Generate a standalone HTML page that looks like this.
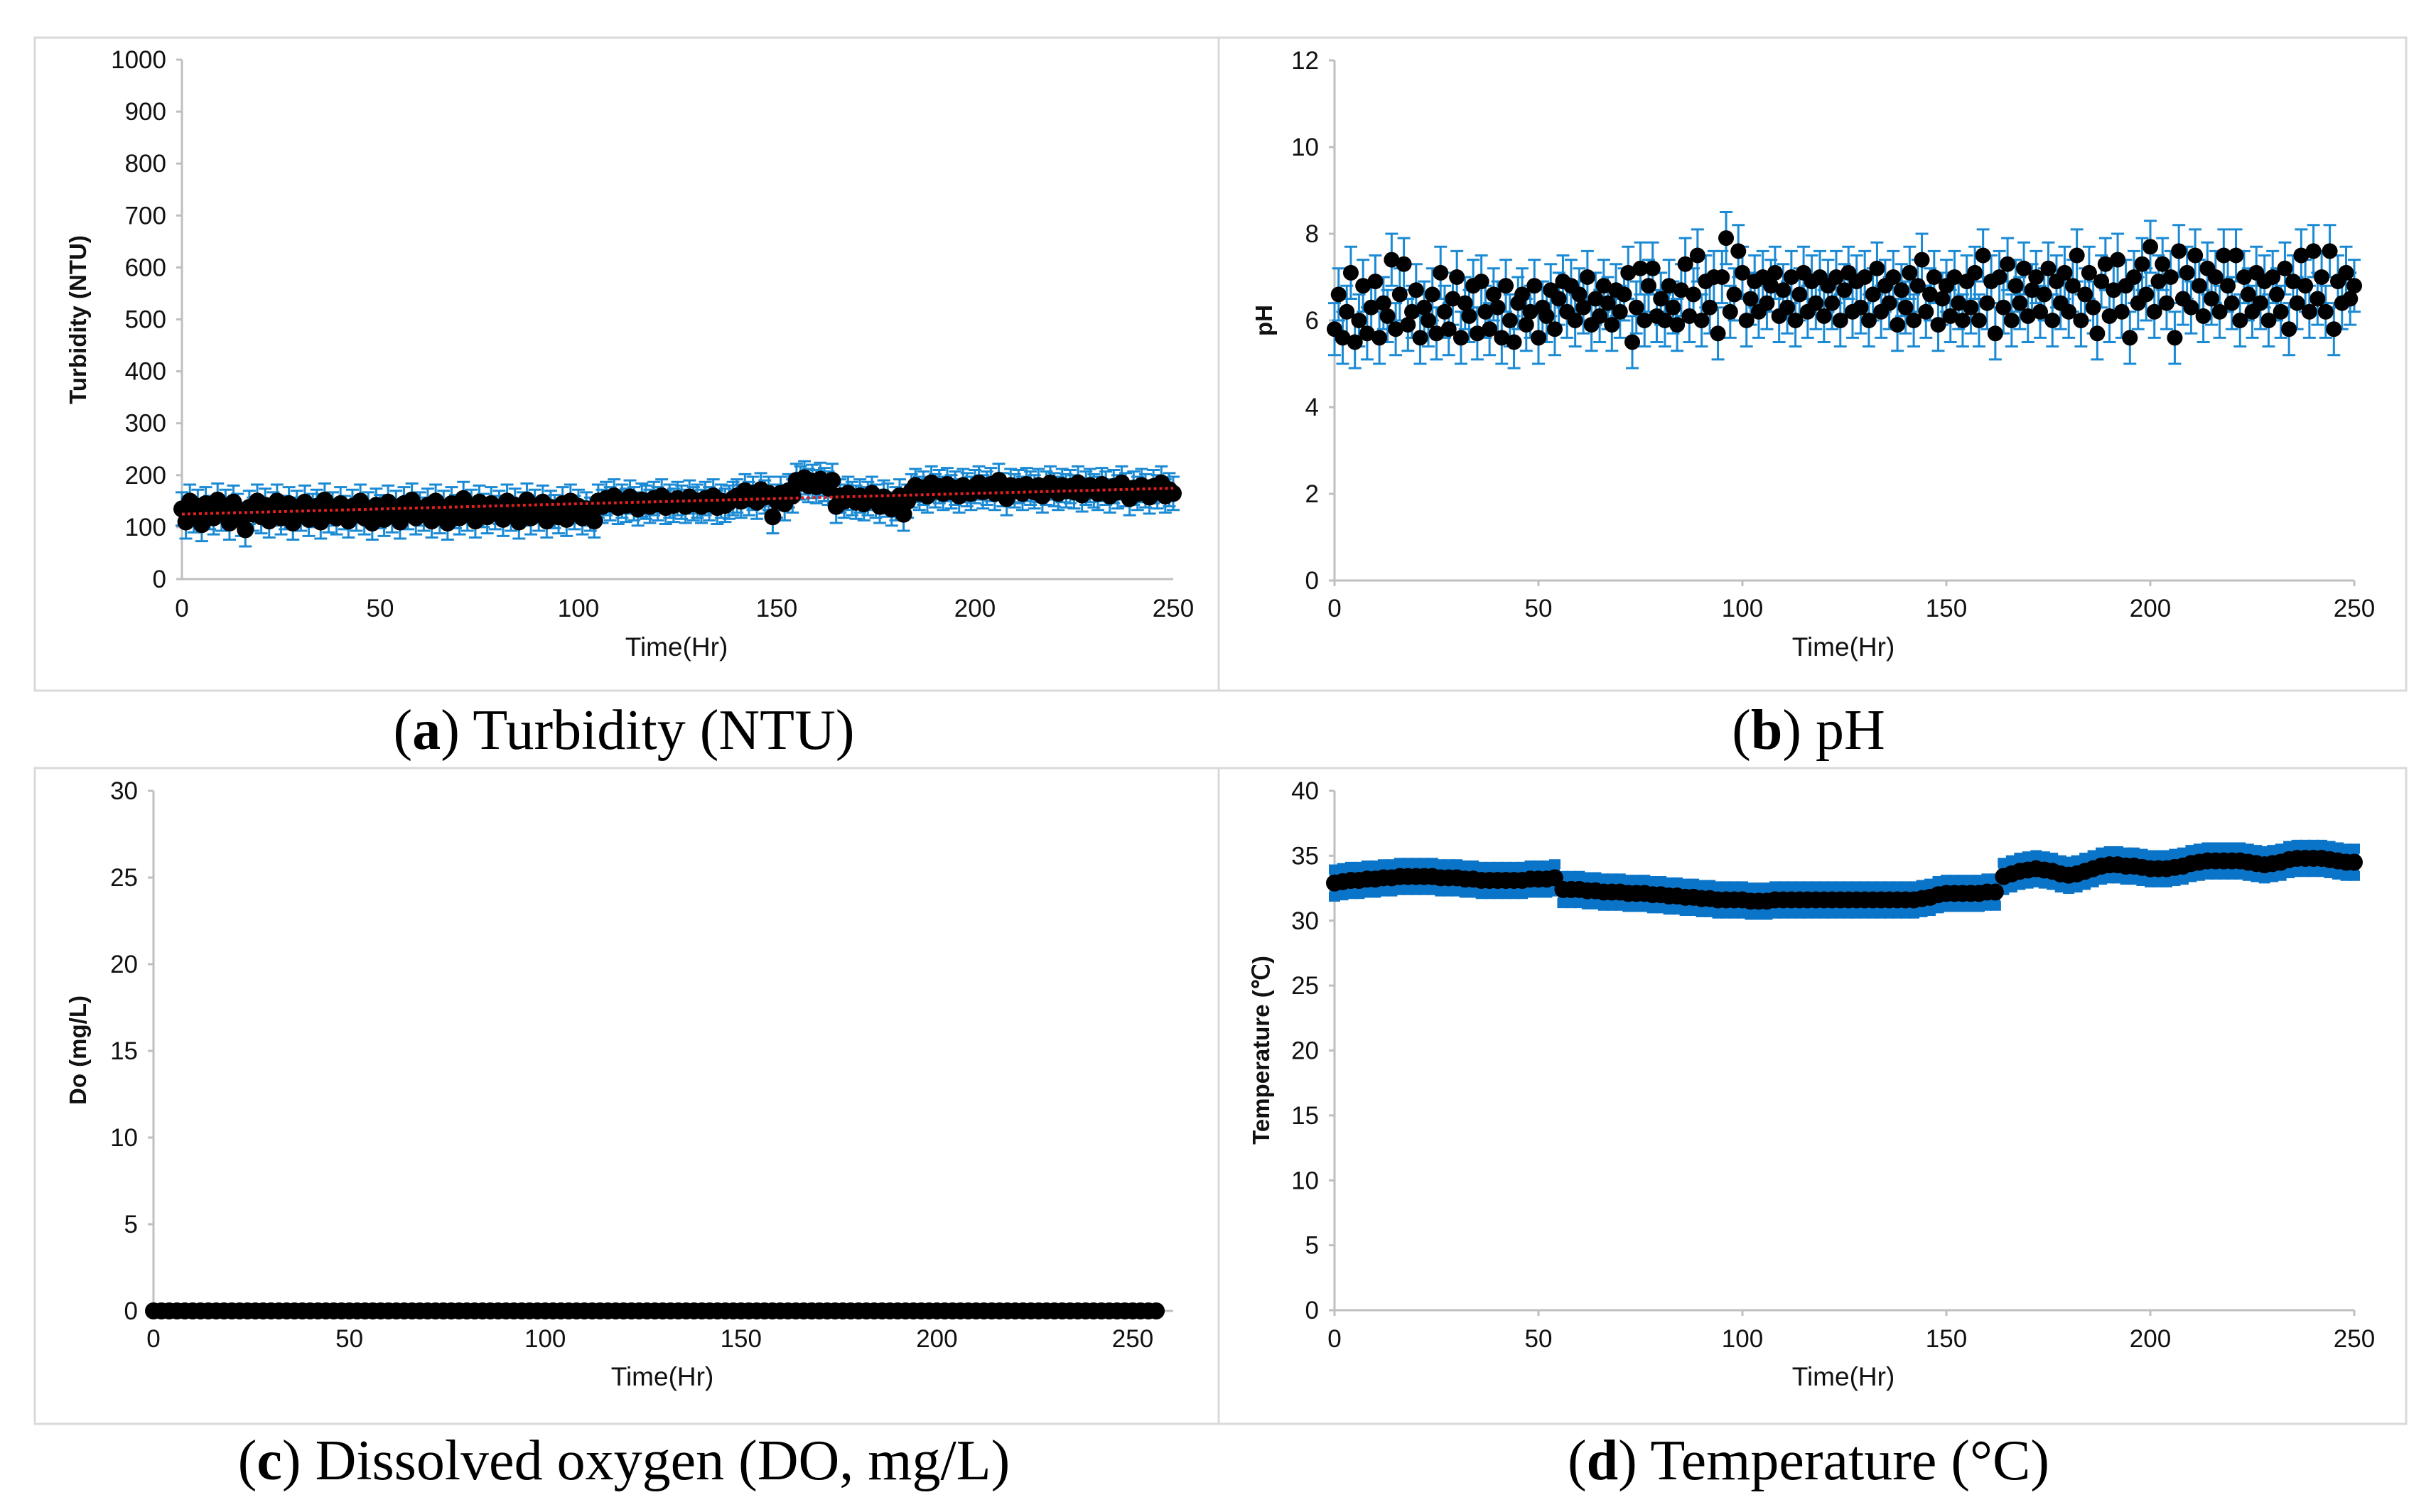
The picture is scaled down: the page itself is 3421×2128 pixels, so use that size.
<!DOCTYPE html>
<html><head><meta charset="utf-8">
<style>
html,body{margin:0;padding:0;background:#fff;}
svg{display:block;}
text{font-family:"Liberation Sans",sans-serif;}
.tick{font-size:35px;fill:#111;}
.ytitle{font-size:33px;font-weight:bold;fill:#111;}
.xtitle{font-size:37px;fill:#111;}
.cap{font-family:"Liberation Serif",serif;font-size:80px;fill:#000;}
</style></head>
<body>
<svg id="fig" width="3421" height="2128" viewBox="0 0 3421 2128" xmlns="http://www.w3.org/2000/svg"></svg>
<script>
// ---- data ----
const turbTicks = [0,100,200,300,400,500,600,700,800,900,1000];
const phTicks = [0,2,4,6,8,10,12];
const doTicks = [0,5,10,15,20,25,30];
const tempTicks = [0,5,10,15,20,25,30,35,40];
const timeTicks = [0,50,100,150,200,250];
const turbValues = [135,110,150,122,140,105,145,128,118,152,
125,140,108,148,132,115,95,138,125,150,
120,142,112,135,150,118,128,145,108,138,
125,148,115,132,140,110,152,122,135,118,
145,128,112,140,125,150,118,135,108,142,
130,115,148,122,138,110,145,128,152,118,
135,125,142,112,150,120,138,108,145,130,
118,155,125,140,112,148,132,120,145,128,
138,115,150,125,142,110,135,152,118,140,
125,148,112,138,130,120,145,115,150,128,
140,118,135,125,112,150,140,155,145,160,
138,150,142,158,145,135,152,148,140,155,
145,160,138,150,142,155,148,140,158,145,
150,140,155,145,160,138,150,142,148,155,
160,150,170,155,165,148,172,158,165,120,
150,165,145,170,160,190,185,195,180,188,
178,192,182,175,190,140,160,150,165,155,
148,160,145,155,165,150,140,158,152,135,
145,160,125,150,170,180,165,175,160,185,
170,178,165,182,168,175,160,180,172,165,
178,185,168,175,182,165,190,172,155,180,
170,178,165,182,175,168,180,160,175,185,
172,165,180,170,178,168,185,162,175,180,
170,165,182,175,160,178,168,185,172,155,
175,165,180,170,158,178,168,185,160,172,
165];
const turbStep = 1;
const turbErr = 32;
const turbTrend = [125,175];
const phValues = [5.8,6.6,5.6,6.2,7.1,5.5,6.0,6.8,5.7,6.3,
6.9,5.6,6.4,6.1,7.4,5.8,6.6,7.3,5.9,6.2,
6.7,5.6,6.3,6.0,6.6,5.7,7.1,6.2,5.8,6.5,
7.0,5.6,6.4,6.1,6.8,5.7,6.9,6.2,5.8,6.6,
6.3,5.6,6.8,6.0,5.5,6.4,6.6,5.9,6.2,6.8,
5.6,6.3,6.1,6.7,5.8,6.5,6.9,6.2,6.8,6.0,
6.6,6.3,7.0,5.9,6.5,6.1,6.8,6.4,5.9,6.7,
6.2,6.6,7.1,5.5,6.3,7.2,6.0,6.8,7.2,6.1,
6.5,6.0,6.8,6.3,5.9,6.7,7.3,6.1,6.6,7.5,
6.0,6.9,6.3,7.0,5.7,7.0,7.9,6.2,6.6,7.6,
7.1,6.0,6.5,6.9,6.2,7.0,6.4,6.8,7.1,6.1,
6.7,6.3,7.0,6.0,6.6,7.1,6.2,6.9,6.4,7.0,
6.1,6.8,6.4,7.0,6.0,6.7,7.1,6.2,6.9,6.3,
7.0,6.0,6.6,7.2,6.2,6.8,6.4,7.0,5.9,6.7,
6.3,7.1,6.0,6.8,7.4,6.2,6.6,7.0,5.9,6.5,
6.8,6.1,7.0,6.4,6.0,6.9,6.3,7.1,6.0,7.5,
6.4,6.9,5.7,7.0,6.3,7.3,6.0,6.8,6.4,7.2,
6.1,6.7,7.0,6.2,6.6,7.2,6.0,6.9,6.4,7.1,
6.2,6.8,7.5,6.0,6.6,7.1,6.3,5.7,6.9,7.3,
6.1,6.7,7.4,6.2,6.8,5.6,7.0,6.4,7.3,6.6,
7.7,6.2,6.9,7.3,6.4,7.0,5.6,7.6,6.5,7.1,
6.3,7.5,6.8,6.1,7.2,6.5,7.0,6.2,7.5,6.8,
6.4,7.5,6.0,7.0,6.6,6.2,7.1,6.4,6.9,6.0,
7.0,6.6,6.2,7.2,5.8,6.9,6.4,7.5,6.8,6.2,
7.6,6.5,7.0,6.2,7.6,5.8,6.9,6.4,7.1,6.5,
6.8];
const phStep = 1;
const phErr = 0.6;
const tempValues = [32.9,33.0,33.1,33.1,33.2,33.2,33.3,33.3,33.4,33.4,33.4,
33.4,33.4,33.3,33.3,33.3,33.2,33.2,33.1,33.1,33.1,
33.1,33.1,33.1,33.2,33.2,33.2,33.3,
32.4,32.4,32.4,32.3,32.3,32.2,32.2,
32.2,32.1,32.1,32.1,32.0,32.0,
31.9,31.9,31.8,31.8,31.7,31.7,31.6,31.6,31.6,31.6,
31.5,31.5,31.5,31.6,31.6,31.6,31.6,31.6,31.6,31.6,
31.6,31.6,31.6,31.6,31.6,31.6,31.6,31.6,31.6,31.6,
31.6,31.7,31.8,32.0,32.1,32.1,32.1,32.1,32.1,32.2,32.2,
33.4,33.6,33.8,33.9,34.0,33.9,33.8,33.6,
33.5,33.6,33.8,34.0,34.2,34.3,34.3,34.2,34.2,34.1,34.0,
34.0,34.0,34.1,34.2,34.4,34.5,34.6,34.6,34.6,34.6,
34.6,34.5,34.4,34.3,34.4,34.5,34.7,34.8,34.8,34.8,
34.8,34.7,34.6,34.5,34.5];
const tempStep = 2;
const tempErr = 1.05;
const doValues = [0,0,0,0,0,0,0,0,0,0,0,0,0,0,0,0,0,0,0,0,0,0,0,0,0,0,0,0,0,0,0,0,
0,0,0,0,0,0,0,0,0,0,0,0,0,0,0,0,0,0,0,0,0,0,0,0,0,0,0,0,0,0,0,0,
0,0,0,0,0,0,0,0,0,0,0,0,0,0,0,0,0,0,0,0,0,0,0,0,0,0,0,0,0,0,0,0,
0,0,0,0,0,0,0,0,0,0,0,0,0,0,0,0,0,0,0,0,0,0,0,0,0,0,0,0,0,0,0,0,0];
const doStep = 2;

// ---- drawing ----
const NS = "http://www.w3.org/2000/svg";
const svg = document.getElementById('fig');
function el(tag, attrs, parent, txt){
  const e = document.createElementNS(NS, tag);
  for (const k in attrs) e.setAttribute(k, attrs[k]);
  if (txt !== undefined) e.textContent = txt;
  (parent || svg).appendChild(e);
  return e;
}
function panel(cfg){
  const g = el('g', {});
  
  
  const fr = el('rect', {x:cfg.frame[0], y:cfg.frame[1], width:cfg.frame[2]-cfg.frame[0], height:cfg.frame[3]-cfg.frame[1], fill:'#fff', stroke:'#d9d9d9', 'stroke-width':3}, g);
  
  
  const xs = v => cfg.x0 + v / 250 * (cfg.x1 - cfg.x0);
  const yMax = cfg.yTicks[cfg.yTicks.length-1];
  const ys = v => cfg.y0 - v / yMax * (cfg.y0 - cfg.y1);
  const ya = el('line', {x1:cfg.x0, y1:cfg.y0, x2:cfg.x0, y2:cfg.y1, stroke:'#bfbfbf', 'stroke-width':3}, g);
  
  
  const xa = el('line', {x1:cfg.x0, y1:cfg.y0, x2:cfg.xEnd || cfg.x1, y2:cfg.y0, stroke:'#bfbfbf', 'stroke-width':3}, g);
  
  
  cfg.yTicks.forEach(t => {
    el('line', {x1:cfg.x0-8, y1:ys(t), x2:cfg.x0, y2:ys(t), stroke:'#bfbfbf', 'stroke-width':3}, g);
    const tx = el('text', {x:cfg.x0-22, y:ys(t)+12, 'text-anchor':'end', class:'tick'}, g, String(t));
    
    
  });
  timeTicks.forEach(t => {
    if (cfg.xTickMarks) el('line', {x1:xs(t), y1:cfg.y0, x2:xs(t), y2:cfg.y0+8, stroke:'#bfbfbf', 'stroke-width':3}, g);
    const tx = el('text', {x:xs(t), y:cfg.xLabY, 'text-anchor':'middle', class:'tick'}, g, String(t));
    
    
  });
  const xt = el('text', {x:cfg.xTitle[0], y:cfg.xTitle[1], 'text-anchor':'middle', class:'xtitle'}, g, 'Time(Hr)');
  
  
  const yt = el('text', {x:0, y:0, 'text-anchor':'middle', class:'ytitle', transform:`translate(${cfg.yTitle[0]+11},${cfg.yTitle[1]}) rotate(-90)`}, g, cfg.yLabel);
  
  
  const sg = el('g', {}, g);
  
  
  if (cfg.err !== undefined) {
    cfg.values.forEach((v, i) => {
      const x = xs(i * cfg.step);
      const a = ys(v + cfg.err), b = ys(v - cfg.err);
      const eb = el('path', {d:`M${x},${a}V${b}M${x-cfg.cap},${a}H${x+cfg.cap}M${x-cfg.cap},${b}H${x+cfg.cap}`, stroke:cfg.ebc, 'stroke-width':cfg.ebw, fill:'none'}, sg);
      
      
    });
  }
  cfg.values.forEach((v, i) => {
    const c = el('circle', {cx:xs(i * cfg.step), cy:ys(v), r:cfg.r, fill:'#000'}, sg);
    
    
  });
  if (cfg.trend) {
    const tl = el('line', {x1:xs(0), y1:ys(cfg.trend[0]), x2:xs(250), y2:ys(cfg.trend[1]), stroke:'#e02020', 'stroke-width':4, 'stroke-dasharray':'4 4'}, sg);
    
    
  }
  const cap = el('text', {x:cfg.caption[0], y:cfg.caption[1], 'text-anchor':'middle', class:'cap'}, g);
  
  
  el('tspan', {}, cap, '(');
  el('tspan', {'font-weight':'bold'}, cap, cfg.letter);
  el('tspan', {}, cap, ') ' + cfg.capText);
}

panel({name:'turbidity-panel', frame:[49,53,1715,972], x0:256, x1:1651, y0:815, y1:84, yTicks:turbTicks,
  values:turbValues, step:turbStep, err:turbErr, cap:9, ebw:3, ebc:'#1a8ad4', r:12, trend:turbTrend, xTickMarks:false,
  xLabY:868, xTitle:[952,923], yTitle:[110,450], yLabel:'Turbidity (NTU)',
  caption:[878,1054], letter:'a', capText:'Turbidity (NTU)'});
panel({name:'ph-panel', frame:[1715,53,3386,972], x0:1878, x1:3313, y0:817, y1:85, yTicks:phTicks,
  values:phValues, step:phStep, err:phErr, cap:9, ebw:3, ebc:'#1a8ad4', r:11, xTickMarks:true,
  xLabY:868, xTitle:[2594,923], yTitle:[1779,451], yLabel:'pH',
  caption:[2545,1054], letter:'b', capText:'pH'});
panel({name:'dissolved-oxygen-panel', frame:[49,1081,1715,2004], x0:216, x1:1594, xEnd:1651, y0:1845, y1:1113, yTicks:doTicks,
  values:doValues, step:doStep, r:12, xTickMarks:false,
  xLabY:1896, xTitle:[932,1950], yTitle:[110,1478], yLabel:'Do (mg/L)',
  caption:[878,2082], letter:'c', capText:'Dissolved oxygen (DO, mg/L)'});
panel({name:'temperature-panel', frame:[1715,1081,3386,2004], x0:1878, x1:3313, y0:1844, y1:1113, yTicks:tempTicks,
  values:tempValues, step:tempStep, err:tempErr, cap:8, ebw:14, ebc:'#0a74c8', r:12, xTickMarks:true,
  xLabY:1896, xTitle:[2594,1950], yTitle:[1775,1478], yLabel:'Temperature (℃)',
  caption:[2545,2082], letter:'d', capText:'Temperature (°C)'});
</script>
</body></html>
